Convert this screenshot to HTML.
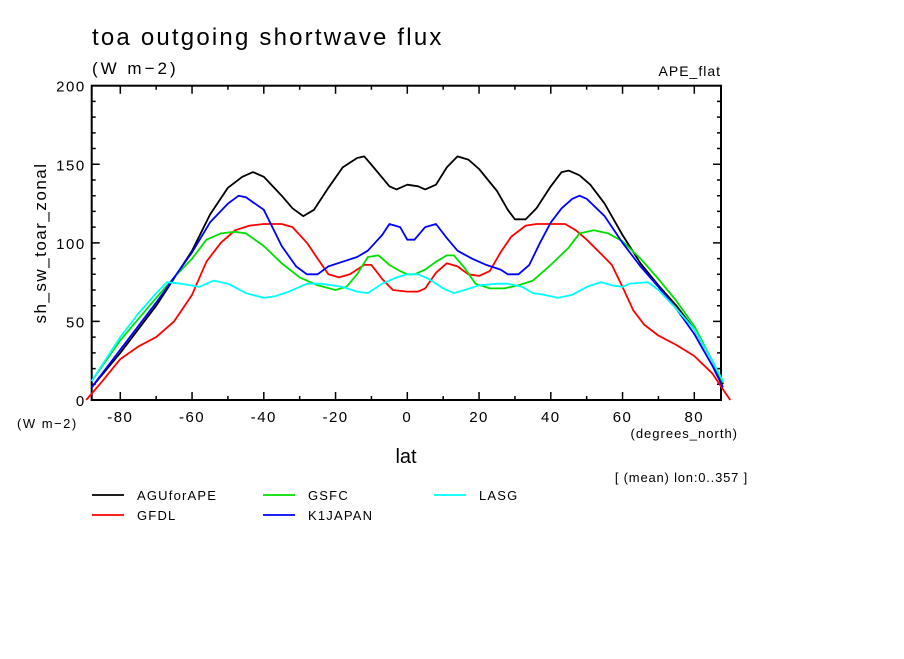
<!DOCTYPE html>
<html><head><meta charset="utf-8"><style>
body{margin:0;background:#fff;width:904px;height:654px;overflow:hidden}
svg text{font-family:"Liberation Sans",sans-serif;fill:#000}
</style></head><body>
<svg id="c" width="904" height="654" xmlns="http://www.w3.org/2000/svg">
<text x="92" y="45" font-size="24" letter-spacing="2.2">toa outgoing shortwave flux</text>
<text x="92" y="74" font-size="17" letter-spacing="3">(W m−2)</text>
<text x="721" y="76" font-size="14" letter-spacing="1" text-anchor="end">APE_flat</text>
<text x="46" y="243" font-size="17" letter-spacing="1.5" text-anchor="middle" transform="rotate(-90 46 243)">sh_sw_toar_zonal</text>
<text x="17" y="428" font-size="13" letter-spacing="1.5">(W m−2)</text>
<text x="738" y="438" font-size="13" letter-spacing="1" text-anchor="end">(degrees_north)</text>
<text x="406" y="463" font-size="20" text-anchor="middle">lat</text>
<text x="748" y="482" font-size="13" letter-spacing="0.8" text-anchor="end">[ (mean) lon:0..357 ]</text>
<g id="ax"></g><g id="series"></g><g id="legend"></g>
</svg>
<script>
const seriesNames=["AGUforAPE","GFDL","GSFC","K1JAPAN","LASG"];
const colors=["#000000","#ff0000","#00e000","#0000ff","#00ffff"];
const xTicks=[-80,-60,-40,-20,0,20,40,60,80];
const yTicks=[0,50,100,150,200];
const aguLat=[-88,-80,-70,-60,-55,-50,-46,-43,-40,-35,-32,-29,-26,-22,-18,-14,-12,-9,-5,-3,0,3,5,8,11,14,17,20,25,28,30,33,36,40,43,45,48,51,55,60,65,70,75,80,85,88];
const aguVal=[8,30,60,95,118,135,142,145,142,130,122,117,121,135,148,154,155,147,136,134,137,136,134,137,148,155,153,147,133,121,115,115,122,136,145,146,143,137,125,105,87,73,60,45,25,10];
const gfdlLat=[-89.5,-85,-80,-75,-70,-65,-60,-56,-52,-48,-44,-40,-35,-32,-28,-25,-22,-19,-16,-12,-10,-7,-4,0,3,5,8,11,14,17,20,23,26,29,33,36,40,44,47,50,54,57,60,63,66,70,75,80,85,90];
const gfdlVal=[0,12,26,34,40,50,67,88,100,108,111,112,112,110,100,90,80,78,80,86,86,77,70,69,69,71,81,87,85,80,79,82,94,104,111,112,112,112,108,102,93,86,72,57,48,41,35,28,17,0];
const gsfcLat=[-88,-80,-70,-65,-60,-56,-52,-48,-45,-40,-35,-30,-25,-20,-17,-14,-11,-8,-5,-2,0,2,5,8,11,13,16,19,23,27,31,35,40,45,48,52,56,60,65,70,75,80,85,88];
const gsfcVal=[12,38,65,78,90,102,106,107,106,98,87,78,73,70,72,80,91,92,86,82,80,80,83,88,92,92,84,74,71,71,73,76,86,97,106,108,106,101,90,77,63,47,25,11];
const k1Lat=[-88,-80,-70,-60,-55,-50,-47,-45,-40,-35,-31,-28,-25,-22,-18,-14,-11,-7,-5,-2,0,2,5,8,11,14,18,22,26,28,31,34,37,40,43,46,48,50,55,60,65,70,75,80,85,88];
const k1Val=[8,32,62,94,113,125,130,129,121,98,85,80,80,85,88,91,95,105,112,110,102,102,110,112,103,95,90,86,83,80,80,86,100,113,122,128,130,128,117,100,85,72,58,42,22,8];
const lasgLat=[-88,-80,-75,-70,-67,-63,-58,-54,-50,-45,-40,-37,-33,-28,-24,-18,-14,-11,-7,-3,0,3,6,10,13,16,20,25,28,32,35,38,42,46,50,54,57,60,62,67,70,75,80,85,88];
const lasgVal=[12,40,55,68,75,74,72,76,74,68,65,66,69,74,74,72,69,68,74,78,80,80,77,71,68,70,73,74,74,72,68,67,65,67,72,75,73,72,74,75,70,58,45,25,12];
const lats=[aguLat,gfdlLat,gsfcLat,k1Lat,lasgLat];
const vals=[aguVal,gfdlVal,gsfcVal,k1Val,lasgVal];
const L=91.7,R=721,T=85.7,B=400;
function X(v){return 407.3+v*3.5875;}
function Y(v){return B-(v/200)*(B-T);}
const NS="http://www.w3.org/2000/svg";
function mk(t,a,p){const e=document.createElementNS(NS,t);for(const k in a)e.setAttribute(k,a[k]);p.appendChild(e);return e;}
const ax=document.getElementById('ax');
const frame=mk('rect',{x:L,y:T,width:R-L,height:B-T,fill:'none',stroke:'#000','stroke-width':2},ax);


let d='';
for(let v=-80;v<=80;v+=10){const x=X(v),len=(v%20===0)?8:4;d+=`M${x} ${B}v${-len}M${x} ${T}v${len}`;}
for(let v=10;v<200;v+=10){const y=Y(v),len=(v%50===0)?8:4;d+=`M${L} ${y}h${len}M${R} ${y}h${-len}`;}
const tk=mk('path',{d:d,stroke:'#000','stroke-width':1.5,fill:'none'},ax);


xTicks.forEach(v=>{const t=mk('text',{x:X(v),y:B+22,'font-size':15,'letter-spacing':1.5,'text-anchor':'middle'},ax);t.textContent=v;

});
yTicks.forEach(v=>{const t=mk('text',{x:L-6,y:Y(v)+6,'font-size':15,'letter-spacing':1.5,'text-anchor':'end'},ax);t.textContent=v;

});
const sg=document.getElementById('series');
seriesNames.forEach((n,i)=>{
 const pts=lats[i].map((la,j)=>X(la).toFixed(1)+','+Y(vals[i][j]).toFixed(1)).join(' ');
 const p=mk('polyline',{points:pts,fill:'none',stroke:colors[i],'stroke-width':1.8,'stroke-linejoin':'round'},sg);
 
 
});
const lg=document.getElementById('legend');
const pos=[[92,495],[92,515],[263,495],[263,515],[434,495]];
seriesNames.forEach((n,i)=>{
 const g=mk('g',{},lg);
 
 
 const [x,y]=pos[i];
 mk('line',{x1:x,y1:y,x2:x+32,y2:y,stroke:colors[i],'stroke-width':1.8},g);
 const t=mk('text',{x:x+45,y:y+5,'font-size':13,'letter-spacing':1.2},g);t.textContent=n;
});
</script>
</body></html>
